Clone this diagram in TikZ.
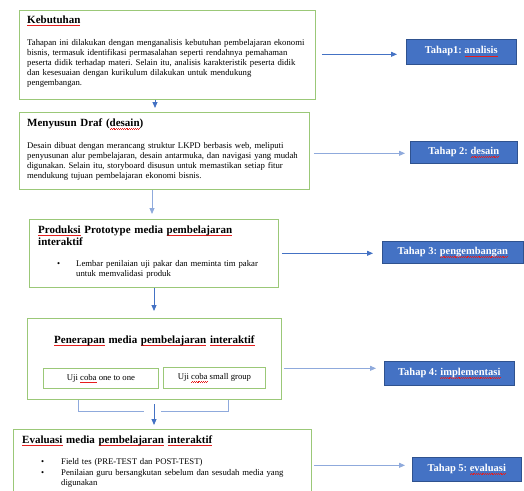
\documentclass[tikz,border=0pt]{standalone}
\usepackage{fontspec}
\setmainfont{Liberation Serif}
\usetikzlibrary{arrows.meta}
\definecolor{boxgreen}{RGB}{155,200,120}
\definecolor{tblue}{RGB}{68,114,196}
\definecolor{tdark}{RGB}{47,82,143}
\definecolor{ablue}{RGB}{68,114,196}
\definecolor{lblue}{RGB}{143,170,220}
\definecolor{sqred}{RGB}{230,30,30}
\frenchspacing
\newsavebox\sqb
\newcommand\sq[1]{\sbox\sqb{#1}\leavevmode\rlap{\color{sqred}\hbox to\wd\sqb{\xleaders\hbox{\rule[-2.9pt]{0.9pt}{0.45pt}\rule[-2.2pt]{0.9pt}{0.45pt}}\hfil}}\usebox\sqb}
\tikzset{
  box/.style={draw=boxgreen, line width=0.9pt, anchor=north west, inner sep=0pt},
  ttl/.style={font=\bfseries\fontsize{11}{13}\selectfont, anchor=base west, inner sep=0pt, text width=300pt, align=left},
  body/.style={font=\fontsize{8.7}{10}\selectfont, anchor=base west, inner sep=0pt, text width=300pt, align=left},
  tahap/.style={fill=tblue, draw=tdark, line width=0.6pt, text=white, font=\bfseries\fontsize{10.5}{12}\selectfont, anchor=north west, inner sep=0pt},
  small/.style={draw=boxgreen, line width=0.9pt, anchor=north west, inner sep=0pt, font=\fontsize{8.7}{10}\selectfont},
  arr/.style={-{Triangle[length=6pt,width=5pt]}, draw=ablue, line width=0.9pt},
  larr/.style={-{Triangle[length=6pt,width=5pt]}, draw=lblue, line width=0.9pt},
  lline/.style={draw=lblue, line width=0.9pt},
}
\begin{document}
\begin{tikzpicture}[x=1pt,y=1pt]
\useasboundingbox (0,0) rectangle (524,-490);
% main boxes
\node[box, minimum width=296pt, minimum height=89pt] (b1) at (19,-10) {};
\node[box, minimum width=290pt, minimum height=77pt] (b2) at (19,-112) {};
\node[box, minimum width=249pt, minimum height=68pt] (b3) at (29,-219) {};
\node[box, minimum width=254pt, minimum height=81pt] (b4) at (27,-318) {};
\node[box, minimum width=298pt, minimum height=80pt] (b5) at (13,-429) {};
% box 1 text
\node[ttl] (b1t) at (27,-23) {\sq{Kebutuhan}};
\node[body] (b1x) at (27,-45) {Tahapan ini dilakukan dengan menganalisis kebutuhan pembelajaran ekonomi\\
bisnis, termasuk identifikasi permasalahan seperti rendahnya pemahaman\\
peserta didik terhadap materi. Selain itu, analisis karakteristik peserta didik\\
dan kesesuaian dengan kurikulum dilakukan untuk mendukung\\
pengembangan.};
% box 2 text
\node[ttl] (b2t) at (27,-126.5) {Menyusun Draf (\sq{desain})};
\node[body] (b2x) at (27,-148) {Desain dibuat dengan merancang struktur LKPD berbasis web, meliputi\\
penyusunan alur pembelajaran, desain antarmuka, dan navigasi yang mudah\\
digunakan. Selain itu, storyboard disusun untuk memastikan setiap fitur\\
mendukung tujuan pembelajaran ekonomi bisnis.};
% box 3 text
\node[ttl, font=\bfseries\fontsize{11}{12.7}\selectfont] (b3t) at (38,-233) {\sq{Produksi} Prototype media \sq{pembelajaran}\\ interaktif};
\node[body] (b3d) at (57,-266.5) {•};
\node[body] (b3x) at (76,-266.5) {Lembar penilaian uji pakar dan meminta tim pakar\\ untuk memvalidasi produk};
% box 4 text
\node[ttl] (b4t) at (54,-343) {\sq{Penerapan} media \sq{pembelajaran} \sq{interaktif}};
\node[small, minimum width=115pt, minimum height=20pt] (u1) at (43,-368) {Uji \sq{coba} one to one};
\node[small, minimum width=102pt, minimum height=21pt] (u2) at (163,-367) {\raisebox{1.5pt}{Uji \sq{coba} small group}};
% box 5 text
\node[ttl] (b5t) at (22,-443) {\sq{Evaluasi} media \sq{pembelajaran} \sq{interaktif}};
\node[body] (b5d1) at (41,-464) {•};
\node[body] (b5x1) at (61,-464) {Field tes (PRE-TEST dan POST-TEST)};
\node[body] (b5d2) at (41,-475.5) {•};
\node[body] (b5x2) at (61,-475.5) {Penilaian guru bersangkutan sebelum dan sesudah media yang\\ digunakan};
% tahap boxes
\node[tahap, minimum width=110pt, minimum height=25pt] (t1) at (406,-39) {Tahap1: \sq{analisis}};
\node[tahap, minimum width=107pt, minimum height=22pt] (t2) at (410,-141) {Tahap 2: \sq{desain}};
\node[tahap, minimum width=141pt, minimum height=22pt] (t3) at (382,-241) {Tahap 3: \sq{pengembangan}};
\node[tahap, minimum width=130pt, minimum height=24pt] (t4) at (384,-361) {Tahap 4: \sq{implementasi}};
\node[tahap, minimum width=109pt, minimum height=24pt] (t5) at (412,-457) {Tahap 5: \sq{evaluasi}};
% horizontal arrows
\draw[arr, shorten <=6pt, shorten >=9pt] ([yshift=-2.5pt]b1.east |- t1.west) -- ([yshift=-2.5pt]t1.west);
\draw[larr, shorten <=4pt, shorten >=5pt] ([yshift=-1pt]b2.east |- t2.west) -- ([yshift=-1pt]t2.west);
\draw[arr, shorten <=3pt, shorten >=9pt] ([yshift=-1pt]b3.east |- t3.west) -- ([yshift=-1pt]t3.west);
\draw[larr, shorten <=2pt, shorten >=8pt] ([yshift=5pt]b4.east |- t4.west) -- ([yshift=5pt]t4.west);
\draw[larr, shorten <=2pt, shorten >=7pt] ([yshift=4pt]b5.east |- t5.west) -- ([yshift=4pt]t5.west);
% vertical arrows
\coordinate (c1) at (155,0);
\coordinate (c2) at (152,0);
\coordinate (c3) at (154,0);
\coordinate (c4) at (154,-404);
\draw[arr, shorten >=4pt] (b1.south -| c1) -- (b2.north -| c1);
\draw[larr, shorten >=5pt] (b2.south -| c2) -- (b3.north -| c2);
\draw[arr, shorten >=7pt] (b3.south -| c3) -- (b4.north -| c3);
\draw[arr, shorten >=4pt] (c4) -- (b5.north -| c4);
% bracket under box 4
\coordinate (k1) at (78,-411);
\coordinate (k2) at (144,-411);
\coordinate (k3) at (228,-411);
\coordinate (k4) at (161,-411);
\draw[lline] (b4.south -| k1) -- (k1) -- (k2);
\draw[lline] (b4.south -| k3) -- (k3) -- (k4);
\end{tikzpicture}
\end{document}
